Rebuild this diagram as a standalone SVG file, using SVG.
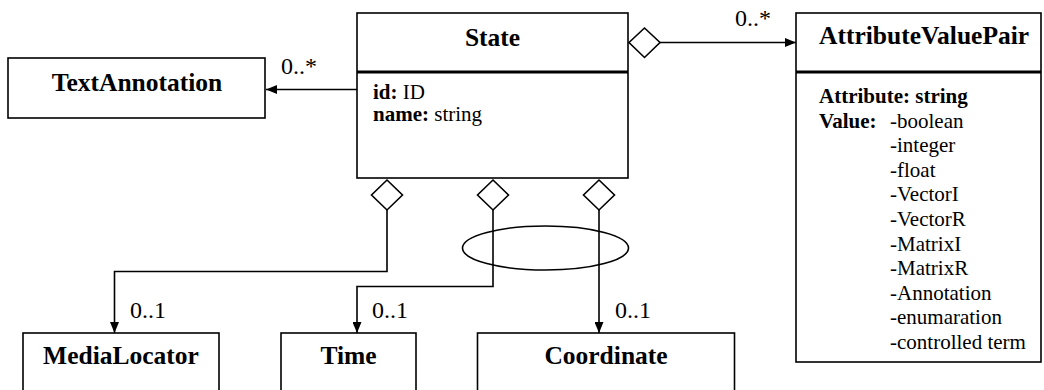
<svg xmlns="http://www.w3.org/2000/svg" width="1044" height="390" viewBox="0 0 1044 390">
<style>
.box{fill:#fff;stroke:#000;stroke-width:1.6}
.div{stroke:#000;stroke-width:3}
.hd{font-family:"Liberation Serif","Times New Roman",serif;font-weight:bold;font-size:25.5px;fill:#000}
.tx{font-family:"Liberation Serif","Times New Roman",serif;font-size:21px;fill:#000}
.b{font-weight:bold}
.ml{font-family:"Liberation Serif","Times New Roman",serif;font-size:24px;fill:#000}
.ln{fill:none;stroke:#000;stroke-width:1.6}
.dia{fill:#fff;stroke:#000;stroke-width:1.6}
</style>
<defs>
<marker id="arr" viewBox="0 0 11 9" refX="11" refY="4.5" markerWidth="11" markerHeight="9" markerUnits="userSpaceOnUse" orient="auto">
<path d="M0,0 L11,4.5 L0,9 Z" fill="#000"/>
</marker>
</defs>
<rect width="1044" height="390" fill="#fff"/>
<g id="connectors">
<path class="ln" d="M357,89.5 L266,89.5" marker-end="url(#arr)"/>
<path class="ln" d="M660,42.5 L796,42.5" marker-end="url(#arr)"/>
<path class="ln" d="M387,210 L387,271.5 L114.5,271.5 L114.5,333" marker-end="url(#arr)"/>
<path class="ln" d="M493,210 L493,286.5 L357,286.5 L357,333" marker-end="url(#arr)"/>
<path class="ln" d="M599,210 L599,333" marker-end="url(#arr)"/>
<polygon class="dia" points="629,42.5 644.5,28 660,42.5 644.5,57.5"/>
<polygon class="dia" points="387,180 402.5,195 387,210 371.5,195"/>
<polygon class="dia" points="493,180 508.5,195 493,210 477.5,195"/>
<polygon class="dia" points="599,180 614.5,195 599,210 583.5,195"/>
<ellipse class="ln" cx="545.5" cy="248" rx="83" ry="22"/>
<text class="ml" x="281" y="74">0..*</text>
<text class="ml" x="735" y="26">0..*</text>
<text class="ml" x="130" y="318">0..1</text>
<text class="ml" x="372" y="318">0..1</text>
<text class="ml" x="615" y="318">0..1</text>
</g>
<g id="State">
<rect class="box" x="357" y="13" width="271" height="165"/>
<line class="div" x1="357" y1="72" x2="628" y2="72"/>
<text class="hd" x="492.5" y="46" text-anchor="middle">State</text>
<text class="tx" x="373" y="99"><tspan class="b">id:</tspan> ID</text>
<text class="tx" x="373" y="121"><tspan class="b">name:</tspan> string</text>
</g>
<g id="TextAnnotation">
<rect class="box" x="8" y="58" width="257" height="60"/>
<text class="hd" x="137" y="91" text-anchor="middle">TextAnnotation</text>
</g>
<g id="AttributeValuePair">
<rect class="box" x="796" y="13" width="245" height="349"/>
<line class="div" x1="796" y1="72" x2="1041" y2="72"/>
<text class="hd" x="819" y="44">AttributeValuePair</text>
<text class="tx b" x="819" y="103">Attribute: string</text>
<text class="tx b" x="819" y="127.6">Value:</text>
<text class="tx">
<tspan x="890" y="127.6">-boolean</tspan>
<tspan x="890" y="152.2">-integer</tspan>
<tspan x="890" y="176.8">-float</tspan>
<tspan x="890" y="201.4">-VectorI</tspan>
<tspan x="890" y="226">-VectorR</tspan>
<tspan x="890" y="250.6">-MatrixI</tspan>
<tspan x="890" y="275.2">-MatrixR</tspan>
<tspan x="890" y="299.8">-Annotation</tspan>
<tspan x="890" y="324.4">-enumaration</tspan>
<tspan x="890" y="349">-controlled term</tspan>
</text>
</g>
<g id="MediaLocator">
<rect class="box" x="23" y="333" width="196" height="70"/>
<text class="hd" x="121" y="364" text-anchor="middle">MediaLocator</text>
</g>
<g id="Time">
<rect class="box" x="281" y="333" width="135" height="70"/>
<text class="hd" x="348.5" y="364" text-anchor="middle">Time</text>
</g>
<g id="Coordinate">
<rect class="box" x="477.5" y="333" width="257" height="70"/>
<text class="hd" x="606" y="364" text-anchor="middle">Coordinate</text>
</g>
</svg>
